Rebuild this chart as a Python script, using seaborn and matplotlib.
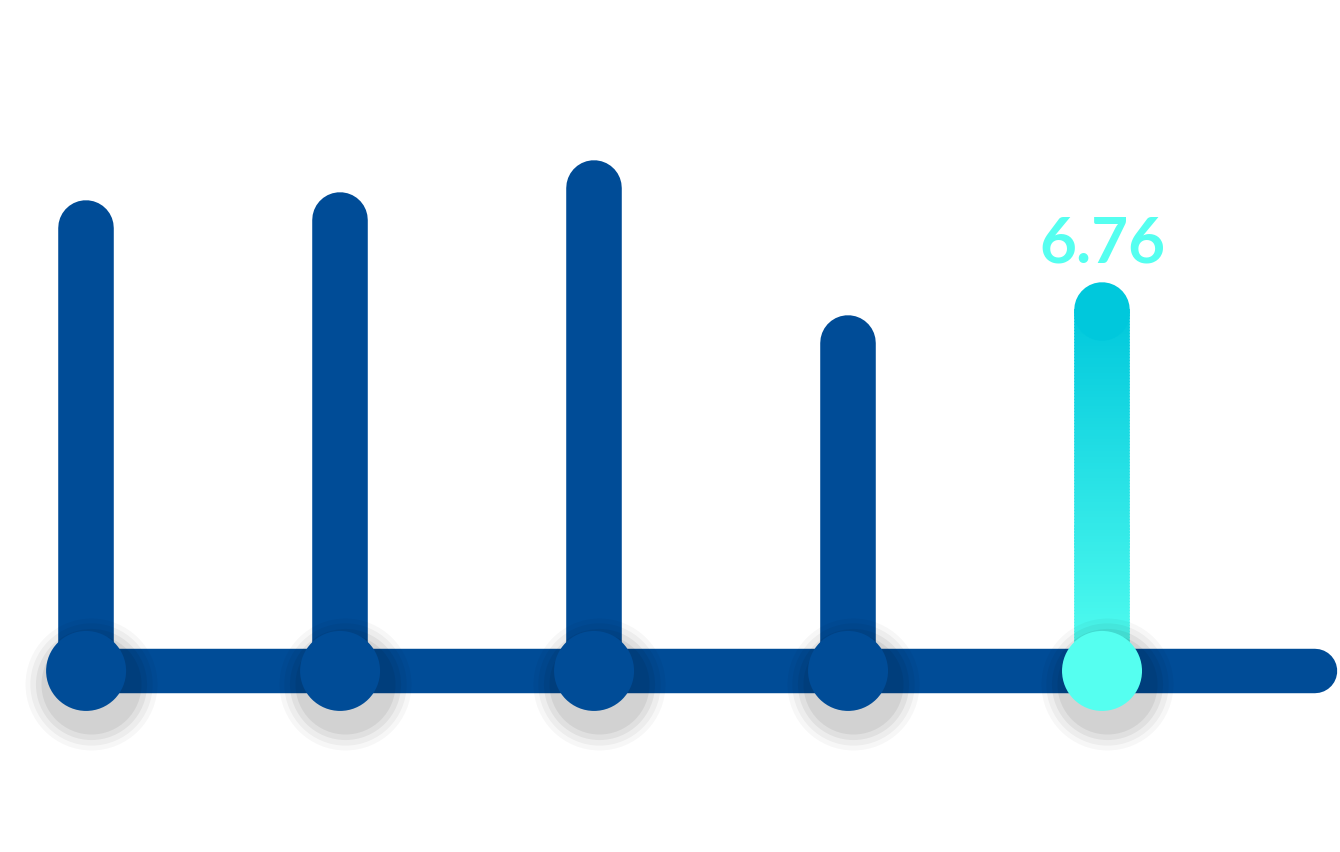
import numpy as np
import pandas as pd
import matplotlib
matplotlib.use("Agg")
import matplotlib.pyplot as plt
import seaborn as sns
from matplotlib.colors import to_rgb

categories = ["A", "B", "C", "D", "E"]
values = [8.30, 8.45, 9.04, 6.14, 6.76]
highlight = 4
label_text = "6.76"

navy = "#004C97"
top_cyan = "#00C8DC"
bottom_cyan = "#55FFF0"

sns.set_style("white")
plt.rcParams['font.family'] = ['Lato', 'DejaVu Sans']

fig = plt.figure(figsize=(13.4, 8.53), dpi=100)
ax = fig.add_axes([0, 0, 1, 1])
ax.set_xlim(-0.339, 4.937)
ax.set_ylim(-3.39, 12.58)
ax.axis("off")

x = np.arange(len(categories))
df = pd.DataFrame({"x": x, "value": values, "cat": categories})

# baseline
ax.plot([0, 4.84], [0, 0], color=navy, lw=32, solid_capstyle="round", zorder=1)

# stems
for i, v in enumerate(values):
    if i == highlight:
        n = 120
        ys = np.linspace(0, v, n + 1)
        c0, c1 = np.array(to_rgb(bottom_cyan)), np.array(to_rgb(top_cyan))
        for k in range(n):
            t = (k + 0.5) / n
            ax.plot([i, i], [ys[k], ys[k + 1] + 0.02], color=c0 + (c1 - c0) * t,
                    lw=40, solid_capstyle="butt", zorder=2)
        ax.plot([i, i], [v - 0.05, v], color=top_cyan, lw=40,
                solid_capstyle="round", zorder=2)
    else:
        ax.plot([i, i], [0, v], color=navy, lw=40, solid_capstyle="round", zorder=2)

# soft shadows under dots
for s, a in [(95, 0.03), (88, 0.04), (80, 0.05), (72, 0.06)]:
    ax.scatter(x + 0.02, np.full(len(x), -0.25), s=s ** 2, color="black",
               alpha=a, linewidths=0, zorder=3)

palette = [bottom_cyan if i == highlight else navy for i in range(len(categories))]
sns.scatterplot(data=df, x="x", y=np.zeros(len(x)), hue="cat", palette=palette,
                s=57.6 ** 2, linewidth=0, legend=False, ax=ax, zorder=4)
ax.set_xlim(-0.339, 4.937)
ax.set_ylim(-3.39, 12.58)
ax.axis("off")

ax.text(highlight, values[highlight] + 0.72, label_text, ha="center", va="bottom",
        fontsize=46, fontweight="bold", color=bottom_cyan, zorder=5)

fig.savefig("out.png", dpi=100)
